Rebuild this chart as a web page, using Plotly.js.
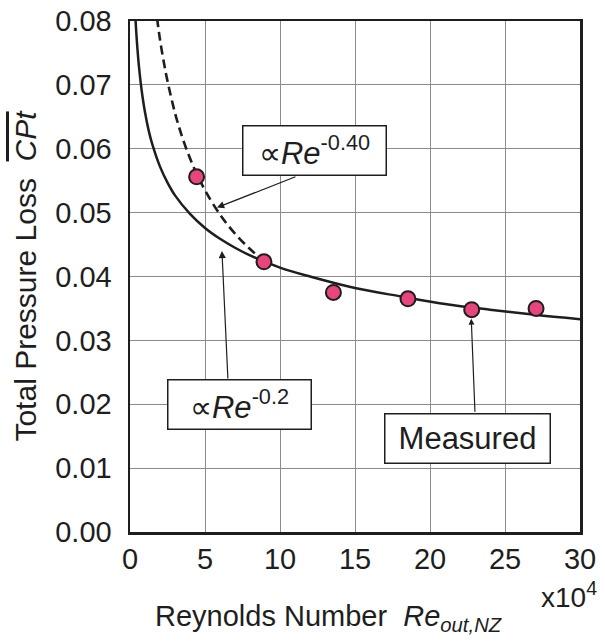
<!DOCTYPE html>
<html>
<head>
<meta charset="utf-8">
<script src="https://cdn.plot.ly/plotly-3.0.1.min.js"></script>
<style>html,body{margin:0;padding:0;background:#fff;}#chart{width:605px;height:641px;}</style>
</head>
<body>
<div id="chart"></div>
<script>
// Measured data (Re in units of 10^4)
const measuredRe = [4.44, 8.93, 13.56, 18.53, 22.78, 27.07];
const measuredCp = [0.0556, 0.0423, 0.0375, 0.0365, 0.0348, 0.0350];

// Solid curve  (∝ Re^-0.2)
const solidRe = [0.35, 0.4, 0.5, 0.6, 0.7, 0.85, 1, 1.25, 1.5, 2, 2.5, 3, 4, 5, 6, 7, 8, 10, 12, 15, 18, 21, 24, 27, 30];
const solidCp = [0.0810, 0.0789, 0.0755, 0.0728, 0.0706, 0.0679, 0.0657, 0.0628, 0.0606, 0.0572, 0.0547, 0.0527, 0.0498, 0.0476, 0.0459, 0.0445, 0.0433, 0.0414, 0.0400, 0.0382, 0.0369, 0.0357, 0.0348, 0.0340, 0.0333];

// Dashed curve (∝ Re^-0.40)
const dashRe = [1.8, 2, 2.25, 2.5, 3, 3.5, 4, 4.5, 5, 6, 7, 8, 8.93];
const dashCp = [0.0805, 0.0771, 0.0736, 0.0706, 0.0656, 0.0617, 0.0585, 0.0558, 0.0535, 0.0497, 0.0467, 0.0443, 0.0424];

const yTicks = [0, 0.01, 0.02, 0.03, 0.04, 0.05, 0.06, 0.07, 0.08];
const xTicks = [0, 5, 10, 15, 20, 25, 30];

const FONT = 'Liberation Sans, Arial, sans-serif';
const INK = '#1e1e1e';

const traces = [
  {x: solidRe, y: solidCp, mode: 'lines', line: {color: INK, width: 2.5, shape: 'spline', smoothing: 1}, hoverinfo: 'skip', showlegend: false},
  {x: dashRe, y: dashCp, mode: 'lines', line: {color: INK, width: 2.6, dash: '9px,5px', shape: 'spline', smoothing: 1}, hoverinfo: 'skip', showlegend: false},
  {x: measuredRe, y: measuredCp, mode: 'markers', marker: {size: 15, color: '#e8457e', line: {color: INK, width: 2}}, showlegend: false, cliponaxis: false}
];

const boxFont = {family: FONT, size: 31, color: INK};
const annotations = [
  // boxes
  {xref: 'x', yref: 'y', x: 12.33, y: 0.0598, showarrow: false, text: '∝<i>Re</i><sup>-0.40</sup>', font: boxFont,
   bgcolor: '#fff', bordercolor: INK, borderwidth: 1.5, borderpad: 1, width: 140, height: 46},
  {xref: 'x', yref: 'y', x: 7.33, y: 0.0200, showarrow: false, text: '∝<i>Re</i><sup>-0.2</sup>', font: boxFont,
   bgcolor: '#fff', bordercolor: INK, borderwidth: 1.5, borderpad: 1, width: 140, height: 46},
  {xref: 'x', yref: 'y', x: 22.53, y: 0.0147, showarrow: false, text: 'Measured', font: boxFont,
   bgcolor: '#fff', bordercolor: INK, borderwidth: 1.5, borderpad: 1, width: 162, height: 46},
  // arrows
  {xref: 'x', yref: 'y', axref: 'x', ayref: 'y', x: 5.8, y: 0.0508, ax: 11.13, ay: 0.0557, text: '', showarrow: true,
   arrowhead: 2, arrowsize: 1.2, arrowwidth: 1.2, arrowcolor: INK},
  {xref: 'x', yref: 'y', axref: 'x', ayref: 'y', x: 6.13, y: 0.0440, ax: 6.53, ay: 0.0238, text: '', showarrow: true,
   arrowhead: 2, arrowsize: 1.2, arrowwidth: 1.2, arrowcolor: INK},
  {xref: 'x', yref: 'y', axref: 'x', ayref: 'y', x: 22.75, y: 0.0334, ax: 23.0, ay: 0.0186, text: '', showarrow: true,
   arrowhead: 2, arrowsize: 1.0, arrowwidth: 1.2, arrowcolor: INK},
  // x-axis title (placed left of centre, as in the reference)
  {xref: 'paper', yref: 'paper', x: 0.44, y: -0.168, xanchor: 'center', yanchor: 'middle', showarrow: false,
   text: 'Reynolds Number\u00A0\u00A0<i>Re</i><sub><i>out,NZ</i></sub>', font: {family: FONT, size: 29, color: INK}},
  // x10^4
  {xref: 'paper', yref: 'paper', x: 1.042, y: -0.123, xanchor: 'right', yanchor: 'middle', showarrow: false,
   text: 'x10<sup>4</sup>', font: {family: FONT, size: 28, color: INK}}
];

const layout = {
  width: 605, height: 641,
  margin: {l: 130, r: 25, t: 21, b: 109},
  paper_bgcolor: '#fff', plot_bgcolor: '#fff',
  font: {family: FONT, color: INK},
  showlegend: false,
  xaxis: {
    range: [0, 30], tickvals: xTicks, ticktext: xTicks.map(String), ticks: '',
    showgrid: true, gridcolor: '#8c8c8c', gridwidth: 1, zeroline: false,
    showline: true, linecolor: INK, linewidth: 2.5, mirror: true,
    tickfont: {family: FONT, size: 29, color: INK}, ticklabelstandoff: 0,
    automargin: false, fixedrange: true
  },
  yaxis: {
    range: [0, 0.08], tickvals: yTicks, ticktext: yTicks.map(v => v.toFixed(2)), ticks: '',
    showgrid: true, gridcolor: '#8c8c8c', gridwidth: 1, zeroline: false,
    showline: true, linecolor: INK, linewidth: 2.5, mirror: true,
    tickfont: {family: FONT, size: 29, color: INK}, ticklabelstandoff: 10,
    title: {text: 'Total Pressure Loss\u00A0\u00A0<span style="text-decoration:overline"><i>CPt</i></span>', font: {family: FONT, size: 30, color: INK}, standoff: 10},
    automargin: false, fixedrange: true
  },
  annotations: annotations
};

Plotly.newPlot('chart', traces, layout, {displayModeBar: false, staticPlot: true});
</script>
</body>
</html>
